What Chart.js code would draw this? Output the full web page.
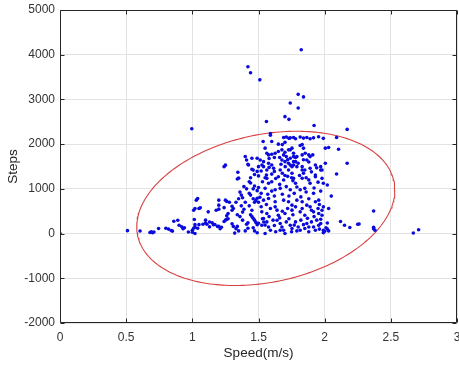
<!DOCTYPE html>
<html><head><meta charset="utf-8">
<script src="https://cdn.jsdelivr.net/npm/chart.js@4.4.1/dist/chart.umd.min.js"></script>
<style>html,body{margin:0;padding:0;background:#fff;overflow:hidden}#wrap{width:459px;height:365px}</style>
</head><body><div id="wrap"><canvas id="c" width="459" height="365"></canvas></div>
<script>
// ---- Data (speed m/s, steps) ----
const outlierPts = [[0,0],[0.51,65],[0.605,58],[0.996,2343],[1.42,3730],[1.44,3595],[1.51,3438],[1.823,4112],[1.80,3114],[1.84,3056],[1.74,2921],[1.80,2809],[1.70,2615],[1.73,2555],[1.56,2508],[1.92,2418],[2.17,2330],[1.59,2238],[1.59,2200],[2.67,13],[2.71,85]];
const lowBandPts = [[0.68,25],[0.69,40],[0.70,20],[0.71,35],[0.745,112],[0.80,120],[0.82,100],[0.84,67],[0.85,55],[0.86,276],[0.89,299],[0.90,186],[0.92,150],[0.93,108],[0.94,130],[0.97,36],[1.0,74],[1.0,30],[1.01,120],[1.02,200],[1.015,315],[1.01,523],[1.02,560],[1.03,748],[1.05,562],[1.02,0],[1.04,119],[1.04,786],[1.06,575],[1.05,200],[1.02,140],[1.08,210],[1.10,238],[1.10,300],[1.11,209],[1.12,486],[1.13,150],[1.13,260],[1.15,240],[1.16,200],[1.17,202],[1.18,520],[1.19,160],[1.20,164],[1.20,546],[1.20,636],[1.20,748],[1.21,110],[1.22,140],[1.24,270],[1.24,580],[1.25,300],[1.25,748],[1.24,1497],[1.25,1530],[1.26,321],[1.26,400],[1.26,720],[1.27,330],[1.27,450],[1.28,700]];
const clusterLowPts = [[1.30,220],[1.31,160],[1.33,110],[1.34,160],[1.35,60],[1.32,10],[1.30,610],[1.31,560],[1.30,520],[1.36,928],[1.37,860],[1.38,800],[1.37,620],[1.39,545],[1.38,480],[1.43,900],[1.44,860],[1.46,780],[1.47,700],[1.48,740],[1.49,790],[1.51,810],[1.50,700],[1.44,420],[1.45,380],[1.46,340],[1.47,300],[1.48,250],[1.49,200],[1.50,230],[1.53,330],[1.54,260],[1.55,190],[1.46,130],[1.47,60],[1.49,20],[1.41,209],[1.42,240],[1.49,960],
[1.538,748],[1.576,786],[1.626,710],[1.626,598],[1.64,524],[1.69,748],[1.727,710],[1.753,636],[1.78,598],[1.79,748],[1.83,710],[1.865,636],[1.89,598],[1.93,710],[1.955,748],[1.99,598],[1.916,486],[1.955,449],[1.98,411],[1.525,486],[1.563,449],[1.59,562],[1.65,411],[1.70,449],[1.753,524],[1.815,486],[1.85,411],[1.538,337],[1.563,261],[1.525,186],[1.576,148],[1.59,74],[1.55,0],[1.64,299],[1.664,225],[1.677,148],[1.69,74],[1.70,0],[1.664,74],[1.74,186],[1.753,112],[1.78,261],[1.80,148],[1.815,74],[1.865,225],[1.88,148],[1.85,112],[1.90,261],[1.916,148],[1.93,74],[1.955,186],[1.97,225],[1.99,74],[1.99,20],[1.71,261],[1.55,1011],[1.664,1011],[1.626,980],[1.815,980],[1.85,1011],[1.60,950],[1.916,899]];
const clusterExtraPts = [[1.58,1480],[1.62,1390],[1.68,1350],[1.72,1280],[1.76,1180],[1.81,1300],[1.86,1250],[1.90,1380],[1.95,1150],[1.66,1100],[1.71,1050],[1.74,980],[1.79,1040],[1.86,930],[1.92,1020],[1.97,950],
[1.52,600],[1.56,650],[1.58,380],[1.61,300],[1.62,180],[1.63,40],[1.66,350],[1.68,500],[1.72,560],[1.73,330],[1.75,40],[1.76,420],[1.77,190],[1.79,60],[1.82,300],[1.83,560],[1.84,200],[1.87,340],[1.88,40],[1.90,520],[1.92,380],[1.94,300],[1.96,100],[1.98,520],[1.97,320],[1.43,620],[1.45,520],[1.42,120],[1.40,60],[1.38,300],[1.36,380],[1.34,420],[1.33,700],[1.35,780],[1.40,700],[1.41,1000],[1.39,1050],[1.46,1000],[1.52,900],[1.57,880],[1.62,840],[1.68,880],[1.73,840],[1.77,900],[1.82,820],[1.88,780],[1.95,560],[1.96,650],
[1.44,1250],[1.47,1320],[1.52,1400],[1.55,1250],[1.63,1230],[1.67,1550],[1.72,1650],[1.78,1700],[1.84,1650],[1.88,1600],[1.62,1700],[1.66,1700],[1.58,1680]];
const rightTailPts = [[2.02,1085],[2.05,838],[2.03,562],[2.02,238],[2.00,50],[2.02,100],[2.01,130],[2.03,60],[2.12,270],[2.15,186],[2.19,135],[2.25,209],[2.26,215],[2.37,505],[2.37,140],[2.38,74],[2.37,110],[2.09,1332]];
const clusterMidPts = [[1.344,1371],[1.34,1220],[1.35,1240],[1.43,1159],[1.44,1130],[1.46,1420],[1.49,1390],[1.50,1290],[1.47,1063],[1.50,1030],[1.53,1159],
[1.538,1497],[1.702,1497],[1.79,1497],[1.563,1422],[1.664,1422],[1.727,1422],[1.83,1422],[1.97,1422],[1.614,1460],[1.89,1460],[1.94,1470],[1.753,1348],[1.84,1348],[1.65,1272],[1.93,1272],[1.563,1235],[1.765,1235],[1.98,1235],[1.69,1198],[1.60,1160],[1.576,1124],[1.78,1124],[1.89,1124],[1.99,1124],
[1.45,1438],[1.56,1310],[1.60,1330],[1.85,1422],[1.93,1310],[1.98,1422],[1.42,1550],[1.70,1300],[1.75,1250],[1.88,1200],[1.83,1236]];
const clusterHighPts = [[1.535,2058],[1.60,2058],[1.69,2150],[1.71,2160],[1.73,2130],[1.765,2150],[1.65,2000],[1.68,1990],[1.70,2040],[1.55,1910],[1.563,1798],[1.576,1759],[1.60,1775],[1.626,1798],[1.65,1834],[1.677,1872],[1.70,1820],[1.727,1872],[1.753,1910],[1.69,1759],[1.71,1721],[1.74,1685],[1.765,1721],[1.677,1647],[1.70,1609],[1.727,1573],[1.74,1535],[1.753,1497],[1.765,1609],[1.40,1721],[1.41,1647],[1.45,1685],[1.49,1685],[1.513,1647],[1.538,1609],[1.576,1573],[1.424,1535],[1.50,1497],[1.526,1535],[1.60,1535],
[1.74,2141],[1.78,2120],[1.815,2160],[1.84,2135],[1.865,2150],[1.89,2120],[1.916,2141],[1.954,2165],[1.99,2130],[2.09,2148],[1.815,1970],[1.84,1910],[2.005,1910],[2.03,1925],[2.105,1887],[1.74,1872],[1.765,1798],[1.79,1721],[1.83,1759],[1.853,1798],[1.88,1759],[1.89,1721],[1.865,1647],[1.78,1609],[1.765,1535],[1.80,1573],[1.83,1497],[1.93,1535],[1.97,1497],[2.005,1573],[2.17,1573],[1.83,1991],[1.91,1759]];

// Ellipse parameters: centre, half-extents along x and y, phase between x and y
const ellipseCenter = [1.555, 563];
const ellipseRadii = [0.975, 1725];
const ellipsePhase = 1.330;
const ellipseSteps = 240;

const xTickValues = [0, 0.5, 1, 1.5, 2, 2.5, 3];
const yTickValues = [-2000, -1000, 0, 1000, 2000, 3000, 4000, 5000];
const xTitle = 'Speed(m/s)';
const yTitle = 'Steps';

const allPts = [].concat(outlierPts, lowBandPts, clusterLowPts, clusterExtraPts, rightTailPts, clusterMidPts, clusterHighPts)
  .map(p => ({x: p[0], y: p[1]}));
const ellipsePts = [];
for (let i = 0; i <= ellipseSteps; i++) {
  const t = 2 * Math.PI * i / ellipseSteps;
  ellipsePts.push({x: ellipseCenter[0] + ellipseRadii[0] * Math.cos(t),
                   y: ellipseCenter[1] + ellipseRadii[1] * Math.cos(t - ellipsePhase)});
}

const axisColor = '#262626';
const boxPlugin = {
  id: 'boxTicks',
  afterDatasetsDraw(chart) {
    const {ctx, chartArea: a, scales: {x, y}} = chart;
    const L = Math.round(a.left) + 0.5, R = Math.round(a.right) - 0.5;
    const T = Math.round(a.top) + 0.5, B = Math.round(a.bottom) - 0.5;
    ctx.save();
    ctx.strokeStyle = axisColor; ctx.lineWidth = 1;
    ctx.beginPath();
    ctx.rect(L, T, R - L, B - T);
    const len = 4;
    xTickValues.forEach(v => {
      const px = Math.round(x.getPixelForValue(v)) + 0.5;
      ctx.moveTo(px, B); ctx.lineTo(px, B - len);
      ctx.moveTo(px, T); ctx.lineTo(px, T + len);
    });
    yTickValues.forEach(v => {
      const py = Math.round(y.getPixelForValue(v)) + 0.5;
      ctx.moveTo(L, py); ctx.lineTo(L + len, py);
      ctx.moveTo(R, py); ctx.lineTo(R - len, py);
    });
    ctx.stroke();
    ctx.restore();
  }
};

const tickFont = {family: 'Liberation Sans, Arial, sans-serif', size: 12};
const titleFont = {family: 'Liberation Sans, Arial, sans-serif', size: 13.5};

new Chart(document.getElementById('c'), {
  type: 'scatter',
  data: {
    datasets: [
      {label: 'data', data: allPts, order: 0, pointRadius: 1.8, pointHoverRadius: 1.8,
       backgroundColor: 'rgb(10,10,220)', borderWidth: 0, pointBorderWidth: 0},
      {label: 'ellipse', type: 'line', data: ellipsePts, order: 1, showLine: true, fill: false,
       pointRadius: 0, borderColor: '#d84040', borderWidth: 1.1, tension: 0}
    ]
  },
  options: {
    responsive: false, animation: false, devicePixelRatio: 1,
    layout: {padding: {top: 10, right: 2, left: 0, bottom: 0}},
    plugins: {legend: {display: false}, tooltip: {enabled: false}},
    scales: {
      x: {
        type: 'linear', min: 0, max: 3,
        afterBuildTicks: s => { s.ticks = xTickValues.map(v => ({value: v})); },
        afterFit: s => { s.height = 42; s.paddingRight = 0; s.paddingLeft = 0; },
        ticks: {font: tickFont, color: '#333', padding: 7, maxRotation: 0, callback: v => String(v)},
        grid: {color: '#e3e3e3', drawTicks: false},
        border: {display: false},
        title: {display: true, text: xTitle, font: titleFont, color: '#262626', padding: {top: 0, bottom: 4}}
      },
      y: {
        type: 'linear', min: -2000, max: 5000,
        afterBuildTicks: s => { s.ticks = yTickValues.map(v => ({value: v})); },
        afterFit: s => { s.width = 60; s.paddingTop = 0; s.paddingBottom = 0; },
        ticks: {font: tickFont, color: '#333', padding: 5, callback: v => String(v)},
        grid: {color: '#e3e3e3', drawTicks: false},
        border: {display: false},
        title: {display: true, text: yTitle, font: titleFont, color: '#262626', padding: {top: 5, bottom: 0}}
      }
    }
  },
  plugins: [boxPlugin]
});
</script></body></html>
